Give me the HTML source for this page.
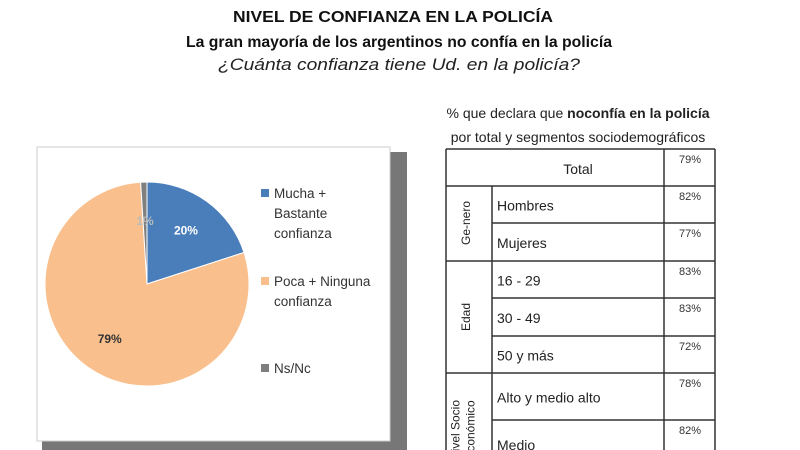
<!DOCTYPE html>
<html><head><meta charset="utf-8"><style>
html,body{margin:0;padding:0;background:#fff;width:800px;height:450px;overflow:hidden}
svg{display:block;font-family:"Liberation Sans",sans-serif}
</style></head><body>
<svg id="s" width="800" height="450" viewBox="0 0 800 450">
<text x="393" y="22" text-anchor="middle" font-size="16" font-weight="bold" fill="#111" textLength="320" lengthAdjust="spacingAndGlyphs">NIVEL DE CONFIANZA EN LA POLICÍA</text>
<text x="399" y="47" text-anchor="middle" font-size="15.5" font-weight="bold" fill="#111" textLength="426" lengthAdjust="spacingAndGlyphs">La gran mayoría de los argentinos no confía en la policía</text>
<text x="399" y="70" text-anchor="middle" font-size="16.5" font-style="italic" fill="#222" textLength="362" lengthAdjust="spacingAndGlyphs">¿Cuánta confianza tiene Ud. en la policía?</text>
<rect x="42" y="152" width="365" height="298" fill="#777"/>
<rect x="37" y="147" width="353" height="294" fill="#fff" stroke="#ccc"/>
<g id="pie"></g>
<g id="legend"></g>
<text x="578" y="118" text-anchor="middle" font-size="14" fill="#222">% que declara que <tspan font-weight="bold">noconfía en la policía</tspan></text>
<text x="578" y="142" text-anchor="middle" font-size="14" fill="#222">por total y segmentos sociodemográficos</text>
<g id="tbl"></g>
</svg>
<script>
const sliceLabels=["Mucha + Bastante confianza","Poca + Ninguna confianza","Ns/Nc"];
const sliceValues=[20,79,1];
const sliceColors=["#4a7ebb","#f9bf8c","#7f7f7f"];
const rowLabels=["Hombres","Mujeres","16 - 29","30 - 49","50 y más","Alto y medio alto","Medio"];
const rowValues=[82,77,83,83,72,78,82];
const totalValue=79;
const NS="http://www.w3.org/2000/svg";
function mk(t,a,p){const e=document.createElementNS(NS,t);for(const k in a)e.setAttribute(k,a[k]);p.appendChild(e);return e;}
const pie=document.getElementById('pie');
const cx=147,cy=284,r=102;
const tot=sliceValues.reduce((a,b)=>a+b,0);
let a0=0;
sliceValues.forEach((v,i)=>{
  const a1=a0+v/tot*Math.PI*2;
  const x0=cx+r*Math.sin(a0),y0=cy-r*Math.cos(a0),x1=cx+r*Math.sin(a1),y1=cy-r*Math.cos(a1);
  const p=mk('path',{d:`M${cx},${cy}L${x0},${y0}A${r},${r} 0 ${a1-a0>Math.PI?1:0} 1 ${x1},${y1}Z`,fill:sliceColors[i],stroke:'#fff','stroke-width':1},pie);
  
  
  const am=(a0+a1)/2,lr=i==2?r*0.62:r*0.65;
  const t=mk('text',{x:cx+lr*Math.sin(am),y:cy-lr*Math.cos(am)+4,'text-anchor':'middle','font-size':12,'font-weight':'bold',fill:i==0?'#fff':(i==2?'#bbb':'#333')},pie);
  t.textContent=Math.round(v/tot*100)+'%';
  
  
  a0=a1;
});
const lg=document.getElementById('legend');
const lgLines=[["Mucha +","Bastante","confianza"],["Poca + Ninguna","confianza"],["Ns/Nc"]];
const lgY=[198,286,373];
lgLines.forEach((ls,i)=>{
  const s=mk('rect',{x:261,y:lgY[i]-9,width:8,height:8,fill:sliceColors[i]},lg);
  
  
  ls.forEach((l,j)=>{const t=mk('text',{x:274,y:lgY[i]+j*20,'font-size':13.5,fill:'#333'},lg);t.textContent=l;
    
    });
});
const tb=document.getElementById('tbl');
const X0=446,X1=492,X2=664,X3=715;
const ys=[149,186,223,261,298,336,373,420,468];
const L={stroke:'#333','stroke-width':1.5,fill:'none'};
mk('line',Object.assign({x1:X0,y1:149,x2:X0,y2:450},L),tb);
mk('line',Object.assign({x1:X3,y1:149,x2:X3,y2:450},L),tb);
mk('line',Object.assign({x1:X2,y1:149,x2:X2,y2:450},L),tb);
mk('line',Object.assign({x1:X1,y1:186,x2:X1,y2:450},L),tb);
ys.forEach((y,i)=>{const full=(i==0||i==1||i==3||i==6);mk('line',Object.assign({x1:full?X0:X1,y1:y,x2:X3,y2:y},L),tb);});
let t=mk('text',{x:578,y:174,'text-anchor':'middle','font-size':14,fill:'#222'},tb);t.textContent='Total';


t=mk('text',{x:690,y:163,'text-anchor':'middle','font-size':11,fill:'#333'},tb);t.textContent=totalValue+'%';


rowLabels.forEach((l,i)=>{
  const y=ys[i+1],h=ys[i+2]-y;
  const a=mk('text',{x:497,y:y+h/2+6,'font-size':14,fill:'#222'},tb);a.textContent=l;
  
  
  const b=mk('text',{x:690,y:y+14,'text-anchor':'middle','font-size':11,fill:'#333'},tb);b.textContent=rowValues[i]+'%';
  
  
});
const groups=[["Ge-nero",466,223],["Edad",466,317],["Nivel Socio","Económico",463,430]];
groups.forEach((g)=>{
  const cyg=g[g.length-1], cxg=g[g.length-2];
  const lines=g.slice(0,-2);
  lines.forEach((l,j)=>{
    const xx=cxg+(j-(lines.length-1)/2)*15+4;
    const e=mk('text',{x:xx,y:cyg,'text-anchor':'middle','font-size':12,fill:'#222',transform:`rotate(-90 ${xx} ${cyg})`},tb);
    e.textContent=l;
    
    
  });
});
</script>
</body></html>
